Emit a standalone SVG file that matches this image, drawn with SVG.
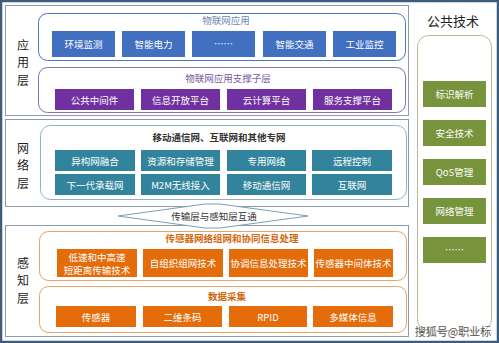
<svg xmlns="http://www.w3.org/2000/svg" width="499" height="343" viewBox="0 0 499 343">
<style>
text{font-family:"Noto Sans CJK SC","Noto Sans",sans-serif;text-anchor:middle;dominant-baseline:central}
.panel{fill:#fff;stroke:#8a9cae;stroke-width:1}
.lab{font-size:12px;fill:#222}
.bt{font-size:9.5px;fill:#fff}
.blue{fill:#4070bf}
.pur{fill:#7030a0}
.teal{fill:#31849b}
.ora{fill:#e46c0a}
.grn{fill:#77933c}
</style>
<rect x="0" y="0" width="499" height="343" fill="#fff"/>
<rect x="1" y="1" width="497" height="341" fill="none" stroke="#3f5d7a" stroke-width="2.5"/>

<g id="app-layer">
<rect class="panel" x="5.5" y="5.5" width="403" height="110"/>
<text class="lab" x="23" y="44">应</text><text class="lab" x="23" y="61.5">用</text><text class="lab" x="23" y="79">层</text>
</g>
<g id="iot-app">
<rect x="38.5" y="13.5" width="367" height="47" rx="9" fill="#fff" stroke="#4a78c0"/>
<text x="226" y="20" font-size="9.5" fill="#6f88b0">物联网应用</text>
<rect class="blue" x="52" y="31" width="63" height="26"/><text class="bt" x="83.5" y="44">环境监测</text>
<rect class="blue" x="122" y="31" width="63" height="26"/><text class="bt" x="153.5" y="44">智能电力</text>
<rect class="blue" x="192" y="31" width="63" height="26"/><text class="bt" x="223.5" y="43">……</text>
<rect class="blue" x="263" y="31" width="63" height="26"/><text class="bt" x="294.5" y="44">智能交通</text>
<rect class="blue" x="333" y="31" width="63" height="26"/><text class="bt" x="364.5" y="44">工业监控</text>
</g>
<g id="iot-support">
<rect x="38.5" y="67.5" width="367" height="45" rx="9" fill="#fff" stroke="#8e6cb8"/>
<text x="228" y="78" font-size="9.5" fill="#7a5a9e">物联网应用支撑子层</text>
<rect class="pur" x="55" y="89" width="79" height="21"/><text class="bt" x="94.5" y="99.5">公共中间件</text>
<rect class="pur" x="141" y="89" width="79" height="21"/><text class="bt" x="180.5" y="99.5">信息开放平台</text>
<rect class="pur" x="227" y="89" width="79" height="21"/><text class="bt" x="266.5" y="99.5">云计算平台</text>
<rect class="pur" x="313" y="89" width="79" height="21"/><text class="bt" x="352.5" y="99.5">服务支撑平台</text>
</g>

<g id="net-layer">
<rect class="panel" x="5.5" y="119.5" width="403" height="87"/>
<text class="lab" x="23" y="147">网</text><text class="lab" x="23" y="164.5">络</text><text class="lab" x="23" y="182">层</text>
</g>
<g id="net-inner">
<rect x="40.5" y="125.5" width="366" height="74" rx="10" fill="#fff" stroke="#8fb2c2"/>
<text x="219" y="137" font-size="9.5" font-weight="bold" fill="#333">移动通信网、互联网和其他专网</text>
<rect class="teal" x="55" y="150" width="80" height="21"/><text class="bt" x="95" y="160.5">异构网融合</text>
<rect class="teal" x="141" y="150" width="79" height="21"/><text class="bt" x="180.5" y="160.5">资源和存储管理</text>
<rect class="teal" x="227" y="150" width="79" height="21"/><text class="bt" x="266.5" y="160.5">专用网络</text>
<rect class="teal" x="312" y="150" width="80" height="21"/><text class="bt" x="352" y="160.5">远程控制</text>
<rect class="teal" x="55" y="174" width="80" height="21"/><text class="bt" x="95" y="184.5">下一代承载网</text>
<rect class="teal" x="141" y="174" width="79" height="21"/><text class="bt" x="180.5" y="184.5">M2M无线接入</text>
<rect class="teal" x="227" y="174" width="79" height="21"/><text class="bt" x="266.5" y="184.5">移动通信网</text>
<rect class="teal" x="312" y="174" width="80" height="21"/><text class="bt" x="352" y="184.5">互联网</text>
</g>

<g id="sense-layer">
<rect class="panel" x="5.5" y="225.5" width="403" height="111"/>
<text class="lab" x="23" y="262">感</text><text class="lab" x="23" y="279.5">知</text><text class="lab" x="23" y="297">层</text>
</g>
<g id="interconnect">
<polygon points="118,216 205,204 220,204 308,216 220,228 205,228" fill="#fff" stroke="#7f9db3"/>
<text x="214" y="216" font-size="9.5" fill="#333">传输层与感知层互通</text>
</g>
<g id="sensor-net">
<rect x="39.5" y="231.5" width="367" height="49" rx="9" fill="#fff" stroke="#e8a56a"/>
<text x="232" y="238" font-size="9.5" font-weight="bold" fill="#d0680f">传感器网络组网和协同信息处理</text>
<rect class="ora" x="57" y="249" width="80" height="28"/><text class="bt" x="97" y="257">低速和中高速</text><text class="bt" x="97" y="270">短距离传输技术</text>
<rect class="ora" x="143" y="249" width="80" height="28"/><text class="bt" x="183" y="263">自组织组网技术</text>
<rect class="ora" x="229" y="249" width="79" height="28"/><text class="bt" x="268.5" y="263">协调信息处理技术</text>
<rect class="ora" x="314" y="249" width="79" height="28"/><text class="bt" x="353.5" y="263">传感器中间体技术</text>
</g>
<g id="data-collect">
<rect x="39.5" y="286.5" width="367" height="46" rx="9" fill="#fff" stroke="#e8a56a"/>
<text x="227" y="296" font-size="9.5" font-weight="bold" fill="#d0680f">数据采集</text>
<rect class="ora" x="56" y="306" width="80" height="21"/><text class="bt" x="96" y="316.5">传感器</text>
<rect class="ora" x="143" y="306" width="79" height="21"/><text class="bt" x="182.5" y="316.5">二维条码</text>
<rect class="ora" x="229" y="306" width="78" height="21"/><text class="bt" x="268" y="316.5">RPID</text>
<rect class="ora" x="313" y="306" width="80" height="21"/><text class="bt" x="353" y="316.5">多媒体信息</text>
</g>

<g id="common-tech">
<text x="453" y="20" font-size="13" fill="#222">公共技术</text>
<rect x="417.5" y="35.5" width="74" height="295" rx="11" fill="#fff" stroke="#bdb59c"/>
<rect class="grn" x="423" y="81" width="63" height="26"/><text class="bt" x="454.5" y="94">标识解析</text>
<rect class="grn" x="423" y="120" width="63" height="26"/><text class="bt" x="454.5" y="133">安全技术</text>
<rect class="grn" x="423" y="159" width="63" height="26"/><text class="bt" x="454.5" y="172">QoS管理</text>
<rect class="grn" x="423" y="198" width="63" height="26"/><text class="bt" x="454.5" y="211">网络管理</text>
<rect class="grn" x="423" y="237" width="63" height="26"/><text class="bt" x="454.5" y="249">……</text>
</g>
<g id="connectors"/>
<g id="watermark">
<text x="453" y="331" font-size="11" fill="#555" stroke="#fff" stroke-width="0.6" paint-order="stroke">搜狐号@职业标</text>
</g>
</svg>
